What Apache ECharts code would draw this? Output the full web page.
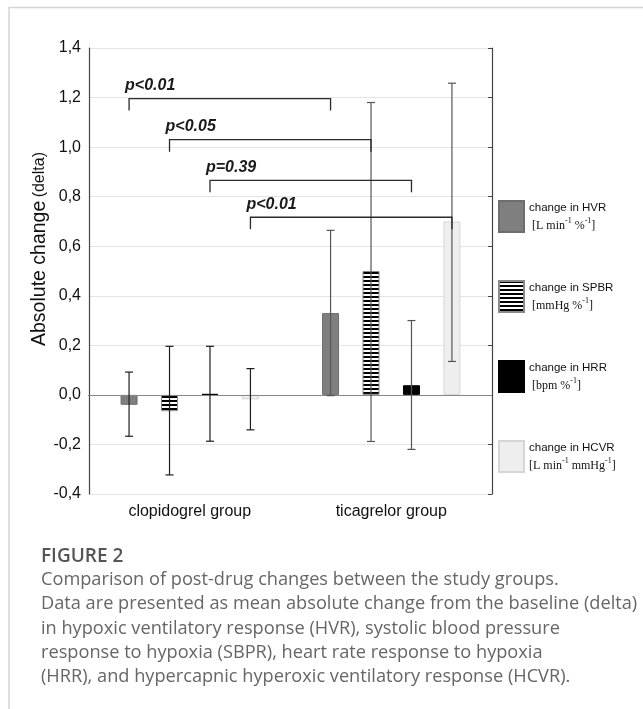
<!DOCTYPE html>
<html>
<head>
<meta charset="utf-8">
<script src="https://cdn.jsdelivr.net/npm/echarts@6/dist/echarts.min.js"></script>
<style>
  html, body { margin: 0; padding: 0; background: #fff; }
  #chart { width: 643px; height: 709px; }
</style>
</head>
<body>
<div id="chart"></div>
<script>
// groups on the x axis
const categories = ['clopidogrel group', 'ticagrelor group'];
const seriesNames = ['change in HVR', 'change in SPBR', 'change in HRR', 'change in HCVR'];

// mean change (delta) per group, and error bar ends
const hvrMean = [-0.04, 0.33];
const hvrLow = [-0.167, -0.003];
const hvrHigh = [0.092, 0.664];

const spbrMean = [-0.066, 0.50];
const spbrLow = [-0.323, -0.188];
const spbrHigh = [0.196, 1.18];

const hrrMean = [0.004, 0.039];
const hrrLow = [-0.187, -0.22];
const hrrHigh = [0.196, 0.30];

const hcvrMean = [-0.018, 0.70];
const hcvrLow = [-0.141, 0.135];
const hcvrHigh = [0.106, 1.258];

// significance brackets: which bar (index within group) is compared, bracket height, label
const bracketBar = [0, 1, 2, 3];
const bracketLevel = [1.196, 1.03, 0.866, 0.717];
const bracketLabel = ['p<0.01', 'p<0.05', 'p=0.39', 'p<0.01'];

const yTicks = { min: -0.4, max: 1.4, interval: 0.2 };

const BAR_W = 17;
const BAR_GAP = 1.38;
const barOffset = (i) => (i - 1.5) * BAR_W * (1 + BAR_GAP);

const stripes = document.createElement('canvas');
stripes.width = 4;
stripes.height = 4;
const sctx = stripes.getContext('2d');
sctx.fillStyle = '#ffffff';
sctx.fillRect(0, 0, 4, 4);
sctx.fillStyle = '#000000';
sctx.fillRect(0, 0, 4, 2);

const means = [hvrMean, spbrMean, hrrMean, hcvrMean];
const lows = [hvrLow, spbrLow, hrrLow, hcvrLow];
const highs = [hvrHigh, spbrHigh, hrrHigh, hcvrHigh];
const barStyles = [
    { color: '#7f7f7f', borderColor: '#6e6e6e', borderWidth: 1 },
    { color: { image: stripes, repeat: 'repeat' }, borderColor: '#8a8a8a', borderWidth: 1 },
    { color: '#000000', borderColor: '#000000', borderWidth: 1 },
    { color: '#eeeeee', borderColor: '#d6d6d6', borderWidth: 1 },
];
const units = [
    ' [L min{s|-1} %{s|-1}]',
    ' [mmHg %{s|-1}]',
    ' [bpm %{s|-1}]',
    '[L min{s|-1} mmHg{s|-1}]',
];

const errorData = [];
means.forEach((m, s) => {
    categories.forEach((c, g) => {
        errorData.push([g, s, lows[s][g], highs[s][g]]);
    });
});
const bracketData = bracketBar.map((b, i) => [0, 1, b, bracketLevel[i], bracketLabel[i]]);

const font = '"Liberation Sans", Arial, sans-serif';

const barSeries = seriesNames.map((name, s) => ({
    name: name,
    type: 'bar',
    xAxisIndex: 0,
    yAxisIndex: 0,
    barWidth: BAR_W,
    barGap: (BAR_GAP * 100) + '%',
    data: means[s],
    itemStyle: barStyles[s],
    emphasis: { disabled: true },
    markLine: s === 0 ? {
        silent: true,
        symbol: 'none',
        label: { show: false },
        lineStyle: { color: '#888888', type: 'solid', width: 1 },
        data: [{ yAxis: 0 }],
    } : undefined,
}));

const errorSeries = {
    type: 'custom',
    name: 'error',
    xAxisIndex: 0,
    yAxisIndex: 0,
    z: 5,
    clip: false,
    encode: { x: 0, y: [2, 3] },
    data: errorData,
    renderItem: (params, api) => {
        const g = api.value(0);
        const s = api.value(1);
        const lo = api.coord([g, api.value(2)]);
        const hi = api.coord([g, api.value(3)]);
        const x = lo[0] + barOffset(s);
        const cap = 4;
        const stroke = g === 0 ? '#1e1e1e' : '#555555';
        const style = { stroke: stroke, lineWidth: 1.2, fill: null };
        return {
            type: 'group',
            children: [
                { type: 'line', shape: { x1: x, y1: lo[1], x2: x, y2: hi[1] }, style: style },
                { type: 'line', shape: { x1: x - cap, y1: lo[1], x2: x + cap, y2: lo[1] }, style: style },
                { type: 'line', shape: { x1: x - cap, y1: hi[1], x2: x + cap, y2: hi[1] }, style: style },
            ],
        };
    },
};

const bracketSeries = {
    type: 'custom',
    name: 'brackets',
    xAxisIndex: 0,
    yAxisIndex: 0,
    z: 6,
    clip: false,
    encode: { x: 0, y: 3 },
    data: bracketData,
    renderItem: (params, api) => {
        const b = api.value(2);
        const left = api.coord([api.value(0), api.value(3)]);
        const right = api.coord([api.value(1), api.value(3)]);
        const x1 = left[0] + barOffset(b);
        const x2 = right[0] + barOffset(b);
        const y = left[1];
        const drop = 12;
        return {
            type: 'group',
            children: [
                {
                    type: 'polyline',
                    shape: { points: [[x1, y + drop], [x1, y], [x2, y], [x2, y + drop]] },
                    style: { stroke: '#2a2a2a', lineWidth: 1.3, fill: null },
                },
                {
                    type: 'text',
                    x: x1 - 4,
                    y: y - 5,
                    style: {
                        text: bracketData[params.dataIndex][4],
                        fontFamily: font,
                        fontSize: 16,
                        fontWeight: 'bold',
                        fontStyle: 'italic',
                        fill: '#1a1a1a',
                        textAlign: 'left',
                        textVerticalAlign: 'bottom',
                    },
                },
            ],
        };
    },
};

const captionLines = [
    'Comparison of post-drug changes between the study groups.',
    'Data are presented as mean absolute change from the baseline (delta)',
    'in hypoxic ventilatory response (HVR), systolic blood pressure',
    'response to hypoxia (SBPR), heart rate response to hypoxia',
    '(HRR), and hypercapnic hyperoxic ventilatory response (HCVR).',
];
const captionFont = '"Open Sans", "Noto Sans", sans-serif';

const graphics = [
    { type: 'line', shape: { x1: 9, y1: 7.5, x2: 643, y2: 7.5 }, style: { stroke: '#d4d4d4', lineWidth: 1.5 }, silent: true },
    { type: 'line', shape: { x1: 9, y1: 7, x2: 9, y2: 709 }, style: { stroke: '#d4d4d4', lineWidth: 1.5 }, silent: true },
    {
        type: 'text',
        x: 40,
        y: 249,
        rotation: Math.PI / 2,
        silent: true,
        style: {
            text: '{a|Absolute change} {b|(delta)}',
            textAlign: 'center',
            textVerticalAlign: 'middle',
            fill: '#111',
            rich: {
                a: { fontFamily: font, fontSize: 19.5, fill: '#111' },
                b: { fontFamily: font, fontSize: 16, fill: '#111' },
            },
        },
    },
    {
        type: 'text',
        x: 41,
        y: 557,
        silent: true,
        style: {
            text: 'FIGURE 2',
            fontFamily: captionFont,
            fontSize: 19,
            fontWeight: 600,
            fill: '#555555',
            textVerticalAlign: 'middle',
        },
    },
];
captionLines.forEach((line, i) => {
    graphics.push({
        type: 'text',
        x: 41,
        y: 580 + i * 24.3,
        silent: true,
        style: {
            text: line,
            fontFamily: captionFont,
            fontSize: 18.2,
            fill: '#666666',
            textVerticalAlign: 'middle',
        },
    });
});

const options = {
    animation: false,
    textStyle: { fontFamily: font },
    grid: { left: 89, right: 151, top: 48, bottom: 215, containLabel: false },
    legend: {
        orient: 'vertical',
        left: 498,
        top: 200,
        padding: 0,
        icon: 'rect',
        itemWidth: 25,
        itemHeight: 31,
        itemGap: 47,
        selectedMode: false,
        data: seriesNames,
        formatter: (name) => {
            const i = seriesNames.indexOf(name);
            return '{a|' + name + '}\n{b|' + units[i].replace(/\{s\|-1\}/g, '}{s|-1}{b|') + '}';
        },
        textStyle: {
            rich: {
                a: { fontFamily: font, fontSize: 11.5, lineHeight: 18, color: '#111' },
                b: { fontFamily: '"Liberation Serif", "Times New Roman", serif', fontSize: 12, lineHeight: 18, color: '#111' },
                s: { fontFamily: '"Liberation Serif", "Times New Roman", serif', fontSize: 8, lineHeight: 18, verticalAlign: 'top', color: '#111' },
            },
        },
    },
    xAxis: [
        {
            type: 'category',
            position: 'bottom',
            data: categories,
            axisLine: { lineStyle: { color: '#444', width: 1.2 } },
            axisTick: { inside: true, alignWithLabel: true, length: 4, lineStyle: { color: '#444' } },
            axisLabel: { fontSize: 16, color: '#111', margin: 10 },
            splitLine: { show: false },
        },
        {
            type: 'category',
            position: 'top',
            data: categories,
            axisLine: { lineStyle: { color: '#444', width: 1.2 } },
            axisTick: { inside: true, alignWithLabel: true, length: 4, lineStyle: { color: '#444' } },
            axisLabel: { show: false },
        },
    ],
    yAxis: [
        {
            type: 'value',
            position: 'left',
            min: yTicks.min,
            max: yTicks.max,
            interval: yTicks.interval,
            axisLine: { show: true, lineStyle: { color: '#444', width: 1.2 } },
            axisTick: { show: false },
            axisLabel: {
                fontSize: 16,
                color: '#111',
                margin: 8,
                formatter: (v) => (Math.abs(v) < 1e-9 ? 0 : v).toFixed(1).replace('.', ','),
            },
            splitLine: { show: true, lineStyle: { color: '#e4e4e4', width: 1.2 } },
        },
        {
            type: 'value',
            position: 'right',
            min: yTicks.min,
            max: yTicks.max,
            interval: yTicks.interval,
            axisLine: { show: true, lineStyle: { color: '#444', width: 1.2 } },
            axisTick: { show: true, inside: true, length: 4, lineStyle: { color: '#444' } },
            axisLabel: { show: false },
            splitLine: { show: false },
        },
    ],
    graphic: graphics,
    series: [...barSeries, errorSeries, bracketSeries],
};

const chart = echarts.init(document.getElementById('chart'));
chart.setOption(options);
</script>
</body>
</html>
